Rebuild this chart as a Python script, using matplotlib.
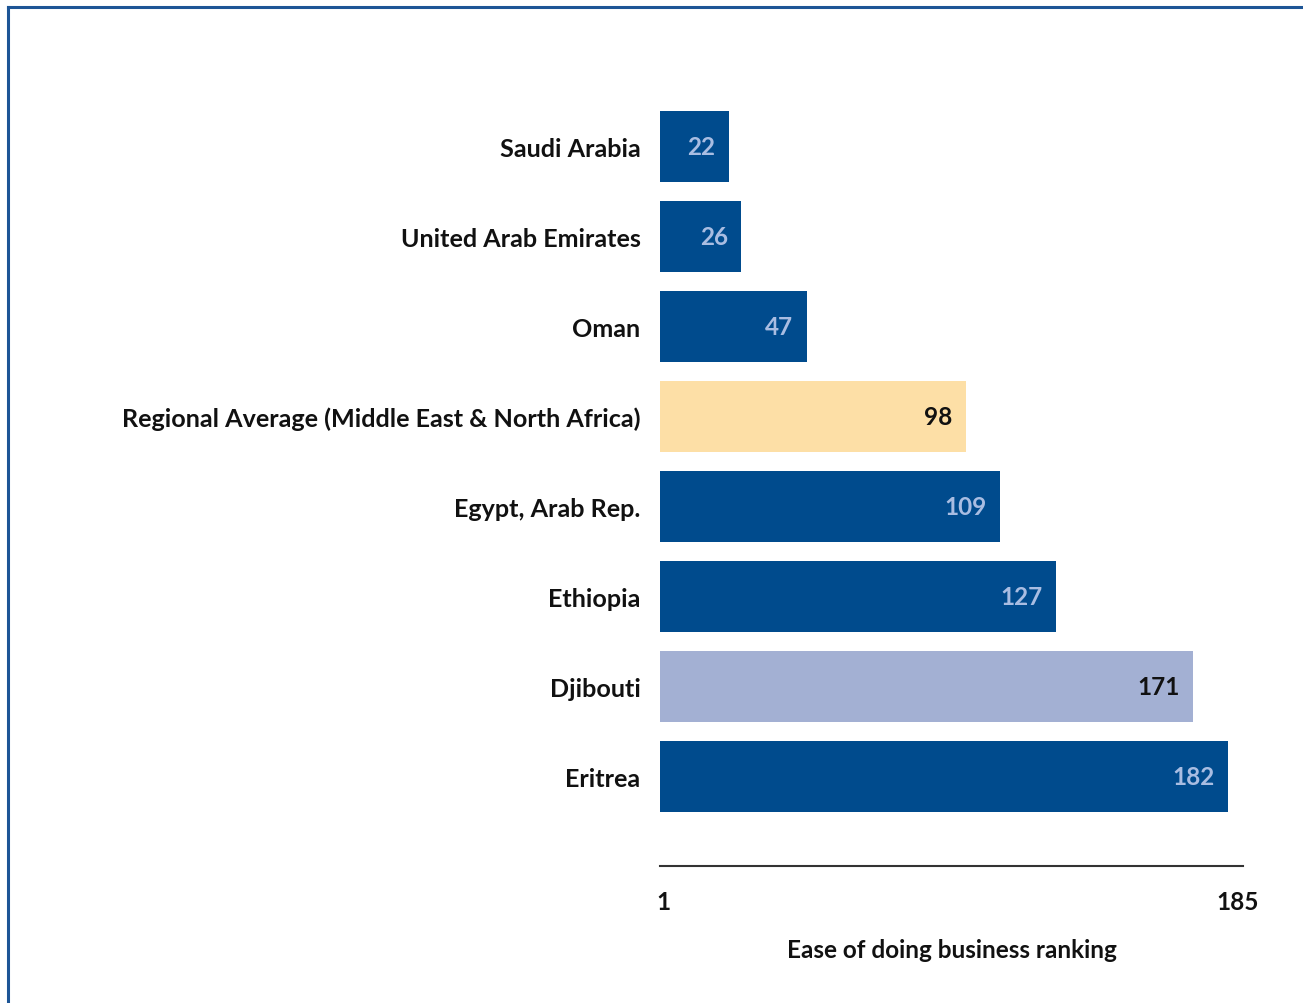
import matplotlib.pyplot as plt
from matplotlib.lines import Line2D

plt.rcParams['font.family'] = ['Lato', 'DejaVu Sans']

countries = ['Saudi Arabia', 'United Arab Emirates', 'Oman',
             'Regional Average (Middle East & North Africa)',
             'Egypt, Arab Rep.', 'Ethiopia', 'Djibouti', 'Eritrea']
ranks = [22, 26, 47, 98, 109, 127, 171, 182]
bar_colors = ['#004B8D', '#004B8D', '#004B8D', '#FDDFA6',
              '#004B8D', '#004B8D', '#A3B0D3', '#004B8D']
label_colors = ['#A9BDE2', '#A9BDE2', '#A9BDE2', '#111111',
                '#A9BDE2', '#A9BDE2', '#111111', '#A9BDE2']
tick_vals = [1, 185]
xlabel = 'Ease of doing business ranking'

fs = 17.5

fig = plt.figure(figsize=(13.03, 10.04), dpi=100)
ax = fig.add_axes([0.5065, 0.1365, 0.4477, 0.761])

ypos = list(range(len(countries)))
ax.barh(ypos, ranks, height=0.79, color=bar_colors, edgecolor='none')

for y, v, c in zip(ypos, ranks, label_colors):
    ax.annotate(str(v), (v, y), xytext=(-9.5, 0), textcoords='offset points',
                ha='right', va='center', fontsize=fs, fontweight='bold', color=c)

ax.set_xlim(0, 187)
ax.set_ylim(8.0, -0.5)
ax.set_yticks(ypos)
ax.set_yticklabels(countries, fontsize=18.1, fontweight='bold', color='#111111')
ax.tick_params(axis='y', length=0, pad=14)
ax.set_xticks(tick_vals)
ax.set_xticklabels([str(t) for t in tick_vals], fontsize=fs, fontweight='bold', color='#111111')
ax.tick_params(axis='x', length=0, pad=17)
ax.set_xlabel(xlabel, fontsize=fs, fontweight='bold', color='#111111', labelpad=18)

for s in ['top', 'right', 'left']:
    ax.spines[s].set_visible(False)
ax.spines['bottom'].set_color('#333333')
ax.spines['bottom'].set_linewidth(1.5)

# frame lines at the top and left of the picture
fig.add_artist(Line2D([0.0058, 1.0], [0.9920, 0.9920], color='#1D5596', lw=2.2))
fig.add_artist(Line2D([0.0058, 0.0058], [0.0, 0.9920], color='#1D5596', lw=2.2))

fig.savefig('out.png', dpi=100)
